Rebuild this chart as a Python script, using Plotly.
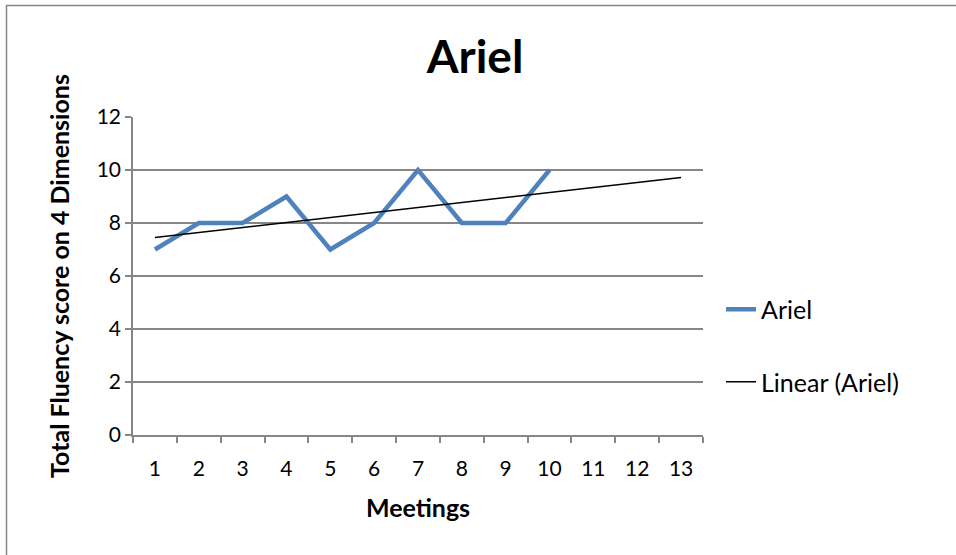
import plotly.graph_objects as go

# ---- data ----
meeting_labels = [str(i) for i in range(1, 14)]
meeting_pos = list(range(1, 14))
ariel_meetings = [1, 2, 3, 4, 5, 6, 7, 8, 9, 10]
ariel_scores = [7, 8, 8, 9, 7, 8, 10, 8, 8, 10]
trend_meetings = [1, 13]
trend_scores = [7.45, 9.72]
y_ticks = [0, 2, 4, 6, 8, 10, 12]
category_edges = [i + 0.5 for i in range(0, 14)]

FONT = "Lato, 'Open Sans', 'Liberation Sans', sans-serif"
GRAY = "#868686"

W, H = 956, 555
L, R, T, B = 133, 703, 117, 435

def px_x(p):
    return (p - L) / (R - L)

def px_y(p):
    return (B - p) / (B - T)

fig = go.Figure()
fig.add_trace(go.Scatter(
    x=ariel_meetings, y=ariel_scores, mode="lines", name="Ariel",
    line=dict(color="#4F81BD", width=4.5), legendgroup="a",
))
fig.add_trace(go.Scatter(
    x=trend_meetings, y=trend_scores, mode="lines", name="Linear (Ariel)",
    line=dict(color="#000000", width=1.5), legendgroup="b",
))

fig.update_layout(
    width=W, height=H,
    margin=dict(l=L, r=W - R, t=T, b=H - B),
    paper_bgcolor="white", plot_bgcolor="white",
    font=dict(family=FONT, size=21, color="#000000"),
    title=dict(text="<b>Ariel</b>", x=475 / W, xref="container", xanchor="center",
               y=1 - 57 / H, yref="container", yanchor="middle",
               font=dict(size=46, family=FONT)),
    showlegend=True,
    legend=dict(x=px_x(721), xanchor="left", y=px_y(345.5), yanchor="middle",
                traceorder="grouped", tracegroupgap=37,
                font=dict(size=25, family=FONT), bgcolor="rgba(0,0,0,0)"),
    xaxis=dict(
        range=[0.5, 13.5], tickmode="array", tickvals=meeting_pos,
        ticktext=meeting_labels, ticks="outside", ticklen=6, tickcolor="rgba(0,0,0,0)",
        ticklabelstandoff=8, tickfont=dict(size=21),
        showgrid=False, zeroline=False, showline=True, linecolor=GRAY, linewidth=1.5,
        minor=dict(tickmode="array", tickvals=category_edges, ticks="outside",
                   ticklen=6, tickcolor=GRAY, tickwidth=1.5, showgrid=False),
        title=dict(text="<b>Meetings</b>", font=dict(size=25, family=FONT), standoff=21),
        fixedrange=True,
    ),
    yaxis=dict(
        range=[0, 12], tickmode="array", tickvals=y_ticks,
        ticks="outside", ticklen=6, tickcolor=GRAY, tickwidth=1.5,
        tickfont=dict(size=21),
        showgrid=True, gridcolor=GRAY, gridwidth=1.5, zeroline=False,
        showline=True, linecolor=GRAY, linewidth=1.5,
        title=dict(text="<b>Total Fluency score on 4 Dimensions</b>",
                   font=dict(size=25, family=FONT), standoff=20),
        fixedrange=True,
    ),
    shapes=[dict(type="rect", xref="paper", yref="paper",
                 x0=px_x(6.5), x1=px_x(965), y0=px_y(565), y1=px_y(5.5),
                 line=dict(color=GRAY, width=1.5), fillcolor="rgba(0,0,0,0)",
                 layer="below")],
)

fig.write_html("out.html", config={"displayModeBar": False},
               post_script="document.body.style.margin='0';document.body.style.padding='0';")
